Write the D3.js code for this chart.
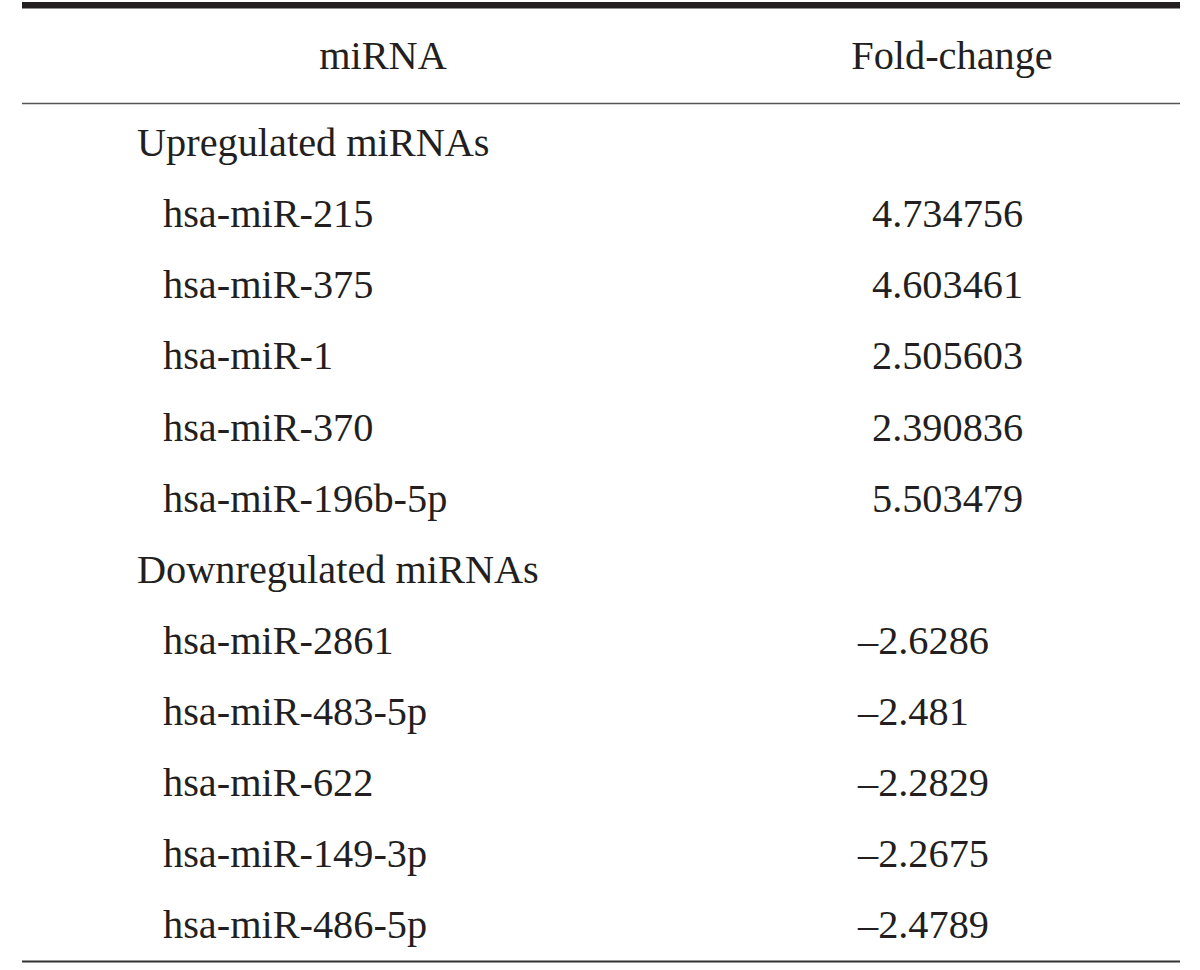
<!DOCTYPE html>
<html>
<head>
<meta charset="utf-8">
<script src="https://cdn.jsdelivr.net/npm/d3@7"></script>
<style>
  html, body { margin: 0; padding: 0; background: #fff; }
  svg { display: block; }
</style>
</head>
<body>
<svg id="chart" width="1200" height="970"></svg>
<script>
// ---- data ----
const columnHeaders = ["miRNA", "Fold-change"];
const groupLabels = ["Upregulated miRNAs", "Downregulated miRNAs"];
const upMirnas = ["hsa-miR-215", "hsa-miR-375", "hsa-miR-1", "hsa-miR-370", "hsa-miR-196b-5p"];
const upFoldChange = [4.734756, 4.603461, 2.505603, 2.390836, 5.503479];
const downMirnas = ["hsa-miR-2861", "hsa-miR-483-5p", "hsa-miR-622", "hsa-miR-149-3p", "hsa-miR-486-5p"];
const downFoldChange = [-2.6286, -2.481, -2.2829, -2.2675, -2.4789];

// ---- build rows ----
const rows = [];
rows.push({ type: "group", label: groupLabels[0] });
upMirnas.forEach((m, i) => rows.push({ type: "item", label: m, value: upFoldChange[i] }));
rows.push({ type: "group", label: groupLabels[1] });
downMirnas.forEach((m, i) => rows.push({ type: "item", label: m, value: downFoldChange[i] }));

const fmt = v => (v < 0 ? "\u2013" + String(Math.abs(v)) : String(v));

const svg = d3.select("#chart");
const font = "'Liberation Serif', 'DejaVu Serif', serif";
const textColor = "#231f20";
const fontSize = 40.3;

const left = 22, right = 1180;

const y = d3.scaleBand()
  .domain(d3.range(rows.length))
  .range([106.5, 959.7])
  .padding(0);

// top thick rule
svg.append("rect").attr("x", left).attr("y", 2).attr("width", right - left).attr("height", 6.5).attr("fill", textColor);
// header rule
svg.append("line").attr("x1", left).attr("x2", right).attr("y1", 103.5).attr("y2", 103.5)
  .attr("stroke", "#555").attr("stroke-width", 1.6);
// bottom rule
svg.append("line").attr("x1", left).attr("x2", right).attr("y1", 961.5).attr("y2", 961.5)
  .attr("stroke", "#333").attr("stroke-width", 2);

// headers
const headerX = [383, 952];
svg.selectAll("text.hdr").data(columnHeaders).join("text")
  .attr("class", "hdr")
  .attr("x", (d, i) => headerX[i])
  .attr("y", 55)
  .attr("dy", "0.35em")
  .attr("text-anchor", "middle")
  .attr("font-family", font)
  .attr("font-size", fontSize)
  .attr("fill", textColor)
  .text(d => d);

// row labels
svg.selectAll("text.lbl").data(rows).join("text")
  .attr("class", "lbl")
  .attr("x", d => d.type === "group" ? 137 : 163)
  .attr("y", (d, i) => y(i) + y.bandwidth() / 2)
  .attr("dy", "0.35em")
  .attr("font-family", font)
  .attr("font-size", fontSize)
  .attr("fill", textColor)
  .text(d => d.label);

// values
svg.selectAll("text.val").data(rows.map((d, i) => ({ ...d, i })).filter(d => d.type === "item")).join("text")
  .attr("class", "val")
  .attr("x", d => d.value < 0 ? 858 : 872)
  .attr("y", d => y(d.i) + y.bandwidth() / 2)
  .attr("dy", "0.35em")
  .attr("font-family", font)
  .attr("font-size", fontSize)
  .attr("fill", textColor)
  .text(d => fmt(d.value));
</script>
</body>
</html>
